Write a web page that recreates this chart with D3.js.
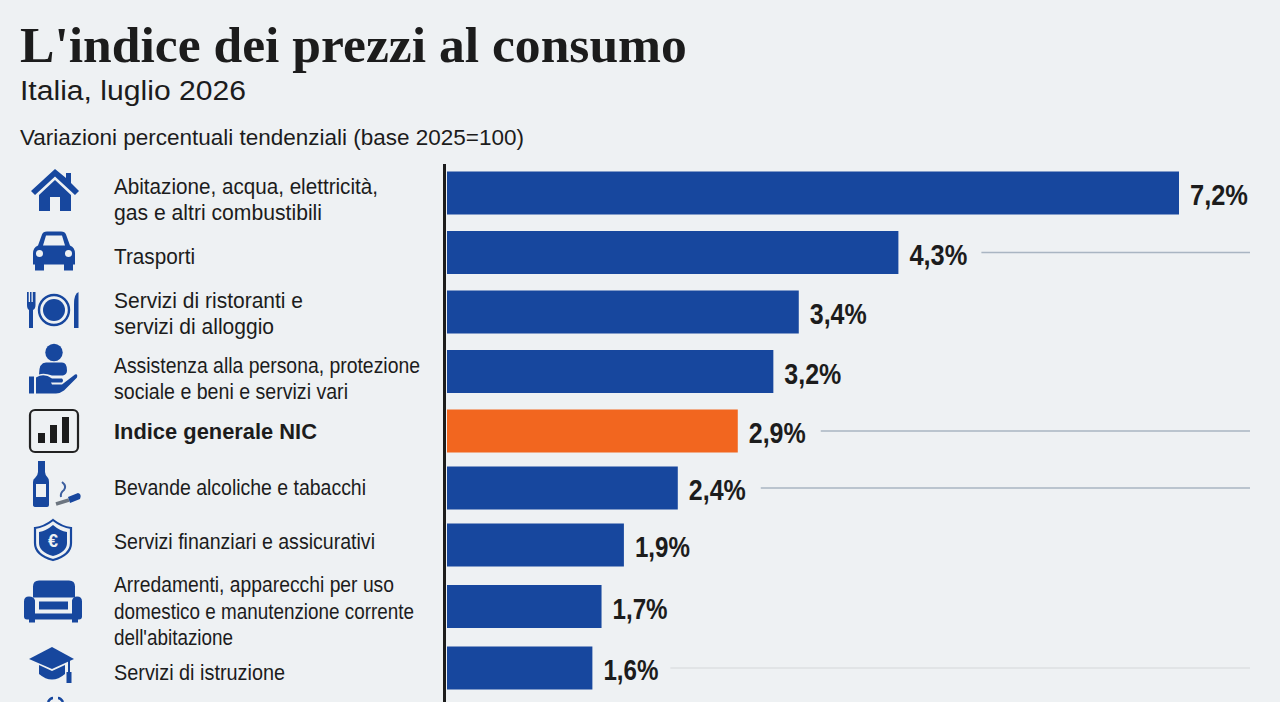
<!DOCTYPE html>
<html lang="it">
<head>
<meta charset="utf-8">
<script src="https://cdn.jsdelivr.net/npm/d3@7"></script>
<style>
  html, body { margin: 0; padding: 0; background: #eef1f3; }
  svg { display: block; }
  text { fill: #1c1c1c; }
  .label { font: 22px "Liberation Sans", Arial, sans-serif; }
  .value { font: bold 30px "Liberation Sans", Arial, sans-serif; }
</style>
</head>
<body>
<svg width="1280" height="702"></svg>
<script>
var categories = [
  "Abitazione, acqua, elettricità,\ngas e altri combustibili",
  "Trasporti",
  "Servizi di ristoranti e\nservizi di alloggio",
  "Assistenza alla persona, protezione\nsociale e beni e servizi vari",
  "Indice generale NIC",
  "Bevande alcoliche e tabacchi",
  "Servizi finanziari e assicurativi",
  "Arredamenti, apparecchi per uso\ndomestico e manutenzione corrente\ndell'abitazione",
  "Servizi di istruzione"
];
// printed percentages
var valueLabels = ["7,2%", "4,3%", "3,4%", "3,2%", "2,9%", "2,4%", "1,9%", "1,7%", "1,6%"];
// the printed bars are not quite proportional to the printed numbers,
// so these are the lengths as measured on the picture (same unit as 7,2)
var barLengths = [7.2, 4.44, 3.46, 3.21, 2.86, 2.27, 1.74, 1.52, 1.43];
var highlight = ["Indice generale NIC"];
var leaderRows = [1, 4, 5, 8];
var iconNames = ["house", "car", "dining", "care", "index", "drinks", "shield", "sofa", "cap"];

var blue = "#17479e", orange = "#f2661f", bg = "#eef1f3";

// the original uses a condensed face, so each line is fitted to its measured width
var lineFit = {
  "Abitazione, acqua, elettricità,": 264,
  "gas e altri combustibili": 208,
  "Trasporti": 81,
  "Servizi di ristoranti e": 189,
  "servizi di alloggio": 160,
  "Assistenza alla persona, protezione": 306,
  "sociale e beni e servizi vari": 234,
  "Indice generale NIC": 203,
  "Bevande alcoliche e tabacchi": 252,
  "Servizi finanziari e assicurativi": 261,
  "Arredamenti, apparecchi per uso": 280,
  "domestico e manutenzione corrente": 300,
  "dell'abitazione": 119,
  "Servizi di istruzione": 171
};
var valueFit = [58, 58, 57, 57, 57, 57, 55, 55, 55];

var svg = d3.select("svg");

svg.append("text").attr("x", 20).attr("y", 62)
  .style("font", "bold 51.6px 'Liberation Serif', serif")
  .text("L'indice dei prezzi al consumo");
svg.append("text").attr("x", 20).attr("y", 100)
  .style("font", "27px 'Liberation Sans', sans-serif")
  .attr("textLength", 226)
  .attr("lengthAdjust", "spacingAndGlyphs")
  .text("Italia, luglio 2026");
svg.append("text").attr("x", 20).attr("y", 145)
  .style("font", "22px 'Liberation Sans', sans-serif")
  .attr("textLength", 504)
  .attr("lengthAdjust", "spacingAndGlyphs")
  .text("Variazioni percentuali tendenziali (base 2025=100)");

var x = d3.scaleLinear().domain([0, 7.2]).range([447, 1179]);
// rows are slightly uneven in the original
var y = d3.scaleLinear().domain([0, 4, 6, 8]).range([193, 431, 545, 668]);
var labelY = d3.scaleLinear()
  .domain([0, 1, 2, 3, 4, 5, 6, 7, 8])
  .range([199.5, 256, 313.5, 378.5, 431, 487, 541, 611, 672]);
var barHeight = 43;

// leaders
svg.selectAll(".leader")
  .data(leaderRows)
  .enter().append("line")
  .attr("class", "leader")
  .attr("x1", d => x(barLengths[d]) + (d == 8 ? 78 : 83))
  .attr("x2", 1250)
  .attr("y1", d => y(d))
  .attr("y2", d => y(d))
  .attr("stroke", d => d == 8 ? "#dcdfe2" : "#a9b5c2")
  .attr("stroke-width", 1.5);

var row = svg.selectAll(".row")
  .data(categories)
  .enter().append("g")
  .attr("class", "row");

row.append("rect")
  .attr("x", x(0))
  .attr("y", (d, i) => y(i) - barHeight / 2)
  .attr("width", (d, i) => x(barLengths[i]) - x(0))
  .attr("height", barHeight)
  .attr("fill", d => highlight.includes(d) ? orange : blue);

row.append("text")
  .attr("class", "value")
  .attr("x", (d, i) => x(barLengths[i]) + 11)
  .attr("y", (d, i) => y(i) + 12)
  .attr("textLength", (d, i) => valueFit[i])
  .attr("lengthAdjust", "spacingAndGlyphs")
  .text((d, i) => valueLabels[i]);

row.append("text")
  .attr("class", "label")
  .style("font-weight", d => highlight.includes(d) ? "bold" : null)
  .each(function (d, i) {
    var lines = d.split("\n");
    d3.select(this).selectAll("tspan")
      .data(lines)
      .enter().append("tspan")
      .attr("x", 114)
      .attr("y", (l, k) => labelY(i) + 7.5 + (k - (lines.length - 1) / 2) * 26.3)
      .attr("textLength", l => lineFit[l])
      .attr("lengthAdjust", "spacingAndGlyphs")
      .text(l => l);
  });

// axis line
svg.append("line")
  .attr("x1", 444.5).attr("x2", 444.5)
  .attr("y1", 164).attr("y2", 702)
  .attr("stroke", "#1c1c1c").attr("stroke-width", 3);

// icons, drawn around the centre of each row
var iconDraw = {
  house: function (g) {
    g.append("path").attr("fill", blue)
      .attr("d", "M0,-24L-24,-2L-20,2L0,-16.5L20,2L24,-2L16,-10V-20H11V-15Z");
    g.append("path").attr("fill", blue)
      .attr("d", "M0,-13L16,2V18H5V4H-5V18H-16V2Z");
  },
  car: function (g) {
    g.append("path").attr("fill", blue).attr("fill-rule", "evenodd")
      .attr("d", "M-16,-7L-12,-18Q-11,-21 -7,-21H7Q11,-21 12,-18L16,-7Q21,-5 21,1V12H19V18H10V12H-10V18H-19V12H-21V1Q-21,-5 -16,-7Z" +
        "M-8,-17L-11,-7H11L8,-17Z" +
        "M-18,1a3.5,3.5 0 1,0 7,0a3.5,3.5 0 1,0 -7,0Z" +
        "M11,1a3.5,3.5 0 1,0 7,0a3.5,3.5 0 1,0 -7,0Z");
  },
  dining: function (g) {
    g.append("circle").attr("cx", 0).attr("cy", -2).attr("r", 15)
      .attr("fill", "none").attr("stroke", blue).attr("stroke-width", 2.4);
    g.append("circle").attr("cx", 0).attr("cy", -2).attr("r", 11).attr("fill", blue);
    g.append("path").attr("fill", blue)
      .attr("d", "M-27,-20H-25.3V-10H-24V-20H-22.5V-10H-21.2V-20H-18.5V-7Q-18.5,-3 -21,-2V16H-25V-2Q-27,-3 -27,-7Z");
    g.append("path").attr("fill", blue)
      .attr("d", "M20,16V-8Q20,-18 24.5,-20V16Z");
  },
  care: function (g) {
    g.append("circle").attr("cx", 0).attr("cy", -19).attr("r", 8.7).attr("fill", blue);
    g.append("path").attr("fill", blue)
      .attr("d", "M-15,3Q-15,-9 -8,-9H8Q13,-9 13,-1Q13,3 9,4H-2Q-10,1 -15,3Z");
    g.append("path").attr("fill", blue)
      .attr("d", "M-25,5H-20V22H-25Z");
    g.append("path").attr("fill", blue)
      .attr("d", "M-18,6Q-10,1 -2,7H8Q10,9 8,11H-3L-2,13H8L21,3Q24,2 23,6L10,19Q6,22 2,22H-18Z");
  },
  index: function (g) {
    g.append("rect").attr("x", -24).attr("y", -21).attr("width", 48).attr("height", 42).attr("rx", 5)
      .attr("fill", "none").attr("stroke", "#222").attr("stroke-width", 2.2);
    g.append("path").attr("fill", "#1c1c1c")
      .attr("d", "M-16,12V2H-9V12ZM-4,12V-6H3V12ZM8,12V-14H15V12Z");
  },
  drinks: function (g) {
    g.append("path").attr("fill", blue).attr("fill-rule", "evenodd")
      .attr("d", "M-17,-27H-10V-16Q-10,-13 -7,-10Q-6,-9 -6,-6V17Q-6,19 -8,19H-19Q-22,19 -22,17V-6Q-22,-9 -20,-10Q-17,-13 -17,-16Z" +
        "M-19,-4V9H-9V-4Z");
    g.append("path").attr("fill", "none").attr("stroke", "#3c5f9f").attr("stroke-width", 2)
      .attr("d", "M7,-6Q12,-2 9,2Q5,5 6,9");
    g.append("path").attr("fill", blue)
      .attr("d", "M13,9L23,5Q27,6 25,11L15,15Z");
    g.append("path").attr("fill", "none").attr("stroke", "#6d7680").attr("stroke-width", 3.5)
      .attr("d", "M1,16L14,12");
  },
  shield: function (g) {
    g.append("path").attr("fill", "none").attr("stroke", blue).attr("stroke-width", 2.2)
      .attr("d", "M0,-25Q9,-18 18,-17V-2Q18,10 0,15Q-18,10 -18,-2V-17Q-9,-18 0,-25Z");
    g.append("path").attr("fill", blue)
      .attr("d", "M0,-20Q7,-14 14,-13V-2Q14,7 0,11Q-14,7 -14,-2V-13Q-7,-14 0,-20Z");
    g.append("text").attr("x", 0).attr("y", 2).attr("text-anchor", "middle")
      .style("font", "bold 18px 'Liberation Sans', sans-serif").style("fill", bg)
      .text("€");
  },
  sofa: function (g) {
    // back
    g.append("path").attr("fill", blue)
      .attr("d", "M-20,-20Q-20,-26 -14,-26H16Q22,-26 22,-20V-9H-20Z");
    // arms and base
    g.append("path").attr("fill", blue)
      .attr("d", "M-24,-10Q-29,-10 -29,-5V10Q-29,13 -26,13H-24V16H-18V13H19V16H25V13H26Q29,13 29,10V-5Q29,-10 24,-10Q20,-10 19,-6V7H-18V-6Q-19,-10 -24,-10Z");
    // seat
    g.append("rect").attr("x", -14).attr("y", -5).attr("width", 29).attr("height", 8).attr("fill", blue);
  },
  cap: function (g) {
    g.append("path").attr("fill", blue)
      .attr("d", "M-1,-21L21,-9L-1,1L-24,-9Z");
    g.append("path").attr("fill", blue)
      .attr("d", "M-14,-3L-1,3L12,-3V6Q-1,17 -14,6Z");
    g.append("path").attr("fill", blue)
      .attr("d", "M15,-9H17V4H18.5V15H13.5V4H15Z");
  }
};

var iconCentreX = [55, 54, 54, 54, 54, 55, 53, 53, 53];
iconNames.forEach(function (name, i) {
  var g = svg.append("g")
    .attr("class", "icon")
    .attr("transform", `translate(${iconCentreX[i]},${y(i)})`);
  iconDraw[name](g);
});

// top of the next icon, cut by the bottom edge of the image
svg.append("path")
  .attr("fill", "none").attr("stroke", blue).attr("stroke-width", 2.5)
  .attr("d", "M48,702Q50,698 53,698M58,698Q61,698 63,702");
</script>
</body>
</html>
